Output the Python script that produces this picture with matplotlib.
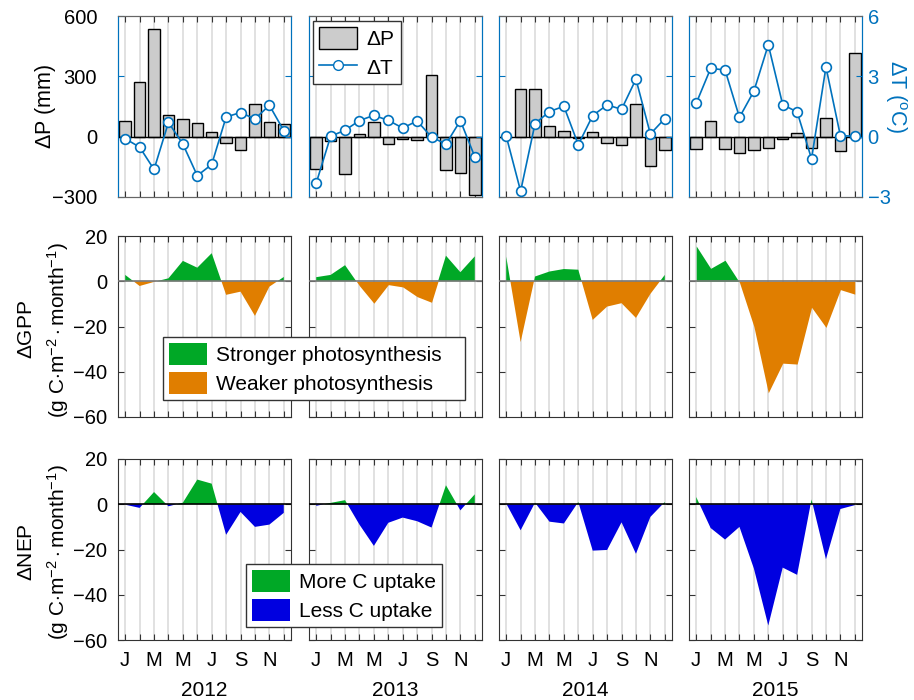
import matplotlib
matplotlib.use('Agg')
import matplotlib.pyplot as plt
import numpy as np
from matplotlib.patches import Patch
from matplotlib.lines import Line2D

plt.rcParams['font.family'] = ['Liberation Sans', 'DejaVu Sans']
plt.rcParams['mathtext.fontset'] = 'custom'
plt.rcParams['mathtext.rm'] = 'Liberation Sans'
plt.rcParams['mathtext.it'] = 'Liberation Sans:italic'

# ---------------- data ----------------
years = ['2012', '2013', '2014', '2015']
months = np.arange(1, 13)
month_labels = ['J', '', 'M', '', 'M', '', 'J', '', 'S', '', 'N', '']

dP = [
    [78, 272, 535, 110, 88, 68, 22, -30, -68, 164, 73, 61],
    [-159, -22, -184, 15, 73, -36, -13, -15, 307, -164, -182, -292],
    [-3, 239, 236, 55, 27, -8, 22, -31, -41, 160, -144, -68],
    [-63, 80, -60, -83, -66, -58, -13, 18, -55, 91, -70, 415],
]
dT = [
    [-0.10, -0.52, -1.63, 0.71, -0.37, -1.94, -1.38, 0.98, 1.20, 0.88, 1.56, 0.30],
    [-2.31, 0.02, 0.32, 0.80, 1.06, 0.81, 0.43, 0.78, -0.02, -0.37, 0.80, -1.00],
    [0.03, -2.71, 0.65, 1.25, 1.51, -0.40, 1.05, 1.58, 1.36, 2.86, 0.13, 0.90],
    [1.66, 3.39, 3.32, 0.96, 2.26, 4.57, 1.59, 1.23, -1.10, 3.46, 0.05, 0.02],
]
dGPP = [
    [2.8, -2.1, -0.3, 1.3, 9.0, 6.0, 12.4, -6.0, -4.6, -15.3, -2.4, 1.9],
    [1.8, 2.8, 7.1, -2.0, -9.7, -1.5, -2.5, -6.8, -9.3, 11.3, 4.0, 11.0],
    [10.9, -26.9, 2.1, 4.3, 5.4, 5.1, -17.1, -11.2, -9.7, -16.2, -5.6, 2.8],
    [15.6, 5.7, 9.3, -0.5, -20.0, -49.3, -36.2, -36.6, -11.5, -20.4, -3.7, -5.7],
]
dNEP = [
    [-0.2, -1.6, 5.4, -0.9, 0.7, 10.9, 9.1, -13.5, -3.4, -10.0, -9.0, -3.8],
    [-0.7, 0.6, 1.8, -9.0, -18.4, -8.2, -5.9, -7.5, -10.3, 8.4, -2.7, 4.4],
    [0.3, -11.5, 0.7, -7.7, -8.5, 1.0, -20.5, -20.2, -8.0, -21.9, -5.6, 1.0],
    [3.2, -10.5, -15.6, -10.0, -28.4, -53.6, -28.0, -31.2, 2.1, -24.3, -2.1, -0.4],
]

# ---------------- style ----------------
W, H = 914, 700
BLUE = '#0072BD'
GREEN = '#00A826'
ORANGE = '#E07E00'
NEPBLUE = '#0000E0'
GRID = '#dcdcdc'
SPINE = '#333333'
FS = 14

fig = plt.figure(figsize=(W / 100, H / 100), dpi=100)

col_left = [118, 309, 499, 689]
col_w = 173
rows = [(16, 197), (236, 417), (459, 640)]


def add_ax(col, row):
    top, bot = rows[row]
    return fig.add_axes([col_left[col] / W, 1 - bot / H, col_w / W, (bot - top) / H])


def common_x(ax, bottom_row):
    ax.set_xlim(0.5, 12.5)
    ax.set_xticks(months)
    ax.grid(axis='x', color=GRID, lw=1.2, zorder=0)
    ax.set_axisbelow(True)
    ax.tick_params(axis='x', direction='in', top=True, length=4, color=SPINE,
                   labelsize=FS + 0.5, pad=8)
    if bottom_row:
        ax.set_xticklabels(month_labels)
    else:
        ax.set_xticklabels([])


# ---------- row 1: dP bars + dT line ----------
for c in range(4):
    ax = add_ax(c, 0)
    common_x(ax, False)
    ax.bar(months, dP[c], width=0.8, color='#cccccc', edgecolor='black', lw=1, zorder=2)
    ax.axhline(0, color='black', lw=1, zorder=3)
    ax.set_ylim(-300, 600)
    ax.set_yticks([-300, 0, 300, 600])
    ax.tick_params(axis='y', direction='in', left=True, right=False, length=4,
                   color=BLUE, labelsize=FS + 0.5, labelcolor='black', pad=15)
    if c != 0:
        ax.set_yticklabels([])
    axT = ax.twinx()
    axT.plot(months, dT[c], '-o', color=BLUE, mfc='white', mec=BLUE, ms=7, mew=1.2,
             lw=1.2, zorder=4)
    axT.set_ylim(-3, 6)
    axT.set_yticks([-3, 0, 3, 6])
    axT.tick_params(axis='y', direction='in', right=True, length=4, color=BLUE,
                    labelsize=FS + 0.5, labelcolor=BLUE, pad=4)
    if c != 3:
        axT.set_yticklabels([])
    for a in (ax, axT):
        a.spines['left'].set_color(BLUE)
        a.spines['right'].set_color(BLUE)
        a.spines['top'].set_color('#666666')
        a.spines['bottom'].set_color('#666666')

# ---------- rows 2, 3: GPP & NEP ----------
for r, data, neg_col, zcol in [(1, dGPP, ORANGE, '#777777'), (2, dNEP, NEPBLUE, 'black')]:
    for c in range(4):
        ax = add_ax(c, r)
        common_x(ax, r == 2)
        y = np.array(data[c], dtype=float)
        ax.fill_between(months, y, 0, where=y >= 0, interpolate=True, color=GREEN,
                        lw=0, zorder=2)
        ax.fill_between(months, y, 0, where=y <= 0, interpolate=True, color=neg_col,
                        lw=0, zorder=2)
        ax.axhline(0, color=zcol, lw=1.2, zorder=3)
        ax.set_ylim(-60, 20)
        ax.set_yticks([-60, -40, -20, 0, 20])
        ax.tick_params(axis='y', direction='in', left=True, right=True, length=4,
                       color=SPINE, labelsize=FS + 0.5, pad=8)
        for s in ax.spines.values():
            s.set_color(SPINE)
        if c != 0:
            ax.set_yticklabels([])
        if r == 2:
            ax.set_xlabel(years[c], fontsize=FS + 1, labelpad=8)

# ---------- y labels ----------
fig.text(45 / W, 1 - 106 / H, r'$\Delta$P (mm)', rotation=90, ha='center', va='center',
         fontsize=FS + 1.5)
fig.text(896 / W, 1 - 97 / H, r'$\Delta$T ($^{\mathrm{o}}$C)', rotation=270, ha='center',
         va='center', fontsize=FS + 1.5, color=BLUE)
unit = r'(g C$\cdot$m$^{-2}\cdot$month$^{-1}$)'
fig.text(44 / W, 1 - 330 / H, r'$\Delta$GPP' + '\n' + unit, rotation=90, ha='center',
         va='center', fontsize=FS + 1, linespacing=1.5, multialignment='center')
fig.text(44 / W, 1 - 552 / H, r'$\Delta$NEP' + '\n' + unit, rotation=90, ha='center',
         va='center', fontsize=FS + 1, linespacing=1.5, multialignment='center')

# ---------- legends ----------
leg_kw = dict(frameon=True, fancybox=False, framealpha=1, edgecolor='#333333',
              fontsize=FS + 1, borderaxespad=0, loc='upper left',
              handlelength=1.8, handleheight=1.25, handletextpad=0.45,
              borderpad=0.3, labelspacing=0.3)

h1 = [Patch(facecolor='#cccccc', edgecolor='black', lw=1),
      Line2D([], [], color=BLUE, marker='o', mfc='white', mec=BLUE, ms=7, lw=1.2)]
lg = fig.legend(h1, [r'$\Delta$P', r'$\Delta$T'], bbox_to_anchor=(313 / W, 1 - 21 / H),
                **leg_kw)
lg.get_frame().set_linewidth(1)

h2 = [Patch(facecolor=GREEN, lw=0), Patch(facecolor=ORANGE, lw=0)]
lg = fig.legend(h2, ['Stronger photosynthesis   ', 'Weaker photosynthesis'],
                bbox_to_anchor=(163 / W, 1 - 337 / H), **leg_kw)
lg.get_frame().set_linewidth(1)

h3 = [Patch(facecolor=GREEN, lw=0), Patch(facecolor=NEPBLUE, lw=0)]
lg = fig.legend(h3, ['More C uptake', 'Less C uptake'],
                bbox_to_anchor=(246 / W, 1 - 564 / H), **leg_kw)
lg.get_frame().set_linewidth(1)

fig.savefig('out.png', dpi=100)
